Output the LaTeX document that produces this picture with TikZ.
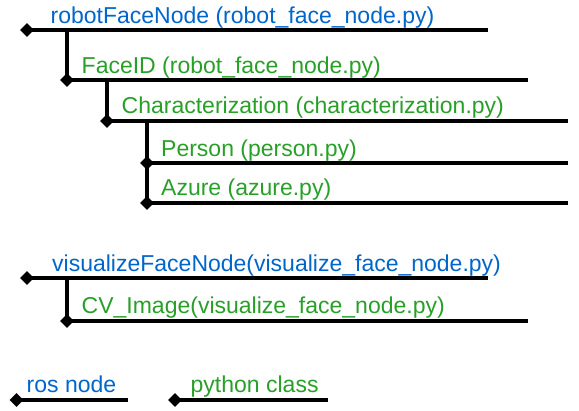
\documentclass[tikz,border=0pt]{standalone}
\usepackage{fontspec}
\setmainfont{Liberation Sans}
\usetikzlibrary{shapes.geometric}
\definecolor{colNode}{RGB}{0,102,204}
\definecolor{colClass}{RGB}{40,160,40}

\begin{document}
\begin{tikzpicture}[x=1pt,y=-1pt,
  every node/.style={font=\fontsize{23}{27}\selectfont},
  D/.style={diamond,fill=black,inner sep=0pt,minimum size=14pt},
  L/.style={line width=3.5pt},
  N/.style={anchor=base west,inner sep=0pt,colNode},
  C/.style={anchor=base west,inner sep=0pt,colClass}
]
\useasboundingbox (0,0) rectangle (579,411);
\def\xa{27}
\def\xb{67}
\def\xc{107}
\def\xd{147}

% robotFaceNode tree
\node[D] (rfn) at (\xa,30) {};
\node[D] (fid) at (\xb,80) {};
\node[D] (chz) at (\xc,121) {};
\node[D] (per) at (\xd,163) {};
\node[D] (azu) at (\xd,203) {};
\coordinate (rfnE) at (488,30);
\coordinate (fidE) at (528,80);
\coordinate (chzE) at (568,121);
\coordinate (perE) at (568,163);
\coordinate (azuE) at (568,203);

\node[N] (rfnT) at (50.5,24) {robotFaceNode (robot\_face\_node.py)};
\node[C] (fidT) at (81.5,74) {FaceID (robot\_face\_node.py)};
\node[C] (chzT) at (121.5,114) {Characterization (characterization.py)};
\node[C] (perT) at (161,157) {Person (person.py)};
\node[C] (azuT) at (161,196) {Azure (azure.py)};

\draw[L] (rfn.center) -- (rfnE);
\draw[L] (fid.center) -- (fidE);
\draw[L] (chz.center) -- (chzE);
\draw[L] (per.center) -- (perE);
\draw[L] (azu.center) -- (azuE);
\draw[L] (rfn.center -| fid.center) -- (fid.center);
\draw[L] (fid.center -| chz.center) -- (chz.center);
\draw[L] (chz.center -| azu.center) -- (azu.center);

% visualizeFaceNode tree
\node[D] (vfn) at (\xa,278) {};
\node[D] (cvi) at (\xb,321) {};
\coordinate (vfnE) at (488,278);
\coordinate (cviE) at (528,321);

\node[N] (vfnT) at (52,271.5) {visualizeFaceNode(visualize\_face\_node.py)};
\node[C] (cviT) at (81.5,314) {CV\_Image(visualize\_face\_node.py)};

\draw[L] (vfn.center) -- (vfnE);
\draw[L] (cvi.center) -- (cviE);
\draw[L] (vfn.center -| cvi.center) -- (cvi.center);

% legend
\node[D] (lgn) at (16.5,400) {};
\node[D] (lgc) at (175,400) {};
\coordinate (lgnE) at (128,400);
\coordinate (lgcE) at (328,400);
\node[N] (lgnT) at (26.5,393) {ros node};
\node[C] (lgcT) at (190.5,392.5) {python class};
\draw[L] (lgn.center) -- (lgnE);
\draw[L] (lgc.center) -- (lgcE);
\end{tikzpicture}
\end{document}
